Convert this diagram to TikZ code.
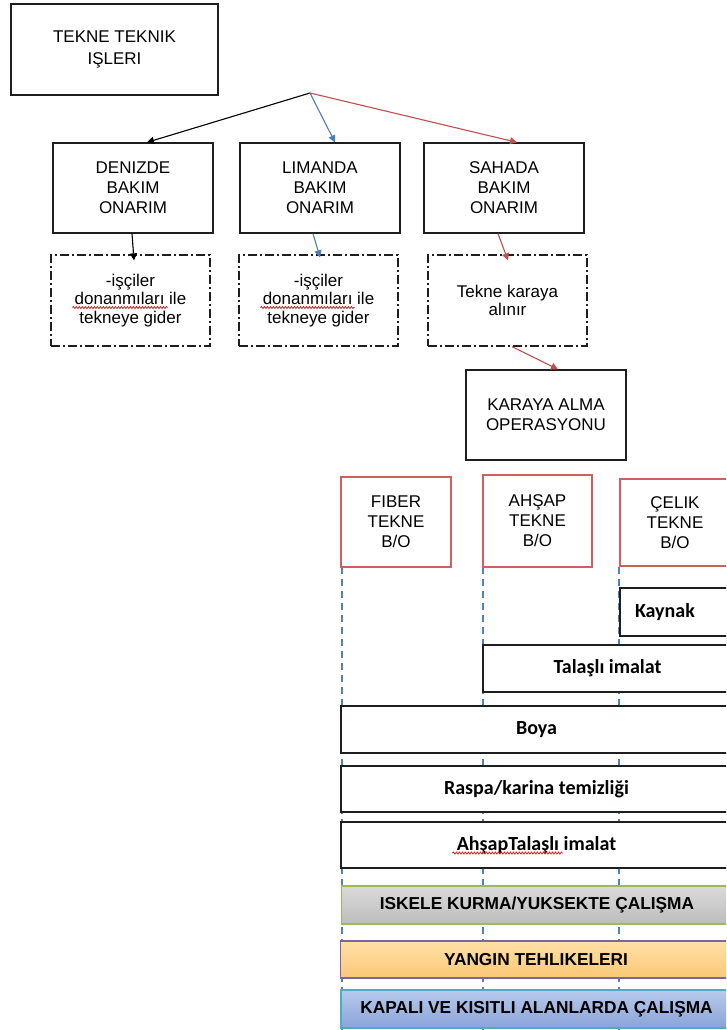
\documentclass[tikz,border=0pt]{standalone}
\usepackage{fontspec}
\setmainfont{Liberation Sans}
\newfontfamily\carl{Carlito}
\usetikzlibrary{arrows.meta,decorations.pathmorphing}
\definecolor{boxline}{HTML}{1E1E1E}
\definecolor{hullred}{HTML}{D0605E}
\definecolor{guideblue}{HTML}{4F81BD}
\definecolor{arrowblue}{HTML}{4A7EBB}
\definecolor{arrowred}{HTML}{C0504D}
\definecolor{spellred}{HTML}{E02020}
\definecolor{scaffgreen}{HTML}{9BBB59}
\definecolor{firepurple}{HTML}{8064A2}
\definecolor{confcyan}{HTML}{4BACC6}
\definecolor{firetop}{HTML}{FFE0A6}
\definecolor{firebot}{HTML}{FBC878}
\definecolor{graytop}{HTML}{DADADA}
\definecolor{graybot}{HTML}{BDBDBD}
\definecolor{conftop}{HTML}{B8CAEC}
\definecolor{confbot}{HTML}{8AA4D8}
\begin{document}
\begin{tikzpicture}[x=1pt,y=-1pt,
  box/.style={draw=boxline, line width=1.3pt, fill=white, align=center, inner sep=0pt,
    font=\fontsize{17}{20}\selectfont},
  dashbox/.style={box, dash pattern=on 9pt off 3pt on 2pt off 3pt},
  hullbox/.style={box, draw=hullred, line width=1.6pt},
  bar/.style={draw=boxline, line width=1.3pt, fill=white, inner sep=0pt,
    font=\carl\bfseries\fontsize{20}{22}\selectfont},
  hazard/.style={line width=1.3pt, inner sep=0pt, minimum width=391pt, minimum height=38pt,
    font=\bfseries\fontsize{17.3}{20}\selectfont},
  guide/.style={draw=guideblue, line width=1.5pt, dash pattern=on 7pt off 5pt},
  link/.style={line width=1.1pt, -{Triangle[length=7pt,width=7pt]}},
  spellmark/.style={draw=spellred, line width=0.8pt,
    decorate, decoration={snake, amplitude=1pt, segment length=3pt}}
]
\path[use as bounding box] (0,0) rectangle (726,1030);
\clip (0,0) rectangle (726,1030);

% top level
\node[box, minimum width=207pt, minimum height=91pt, font=\fontsize{17}{22}\selectfont]
  (top) at (114.5,49.5) {TEKNE TEKNIK\\IŞLERI};
\coordinate (fork) at (310,93);

% maintenance places
\node[box, minimum width=160pt, minimum height=90pt] (den) at (133,188) {DENIZDE\\BAKIM\\ONARIM};
\node[box, minimum width=160pt, minimum height=90pt] (lim) at (320,188) {LIMANDA\\BAKIM\\ONARIM};
\node[box, minimum width=160pt, minimum height=90pt] (sah) at (504,188) {SAHADA\\BAKIM\\ONARIM};

\node[dashbox, minimum width=159pt, minimum height=91pt, font=\fontsize{17}{18.5}\selectfont]
  (d1) at (130.5,300.5) {-işçiler\\donanmıları ile\\tekneye gider};
\node[dashbox, minimum width=159pt, minimum height=91pt, font=\fontsize{17}{18.5}\selectfont]
  (d2) at (318.5,300.5) {-işçiler\\donanmıları ile\\tekneye gider};
\node[dashbox, minimum width=159pt, minimum height=91pt, font=\fontsize{17}{18.5}\selectfont]
  (d3) at (507.5,300.5) {Tekne karaya\\alınır};

\node[box, minimum width=160pt, minimum height=90pt] (kar) at (546,415) {KARAYA ALMA\\OPERASYONU};

% guide lines below the hull types
\coordinate (g1) at (342,1030);
\coordinate (g2) at (483,1030);
\coordinate (g3) at (619,1030);
\draw[guide] (342,567) -- (g1);
\draw[guide] (483,567) -- (g2);
\draw[guide] (619,567) -- (g3);

% hull types
\node[hullbox, minimum width=110pt, minimum height=90pt] (fib) at (396,522) {FIBER\\TEKNE\\B/O};
\node[hullbox, minimum width=109pt, minimum height=92pt] (ahs) at (537.5,521) {AHŞAP\\TEKNE\\B/O};
\node[hullbox, minimum width=110pt, minimum height=87pt] (cel) at (675,522.5) {ÇELIK\\TEKNE\\B/O};

% work items
\node[bar, minimum width=112pt, minimum height=48pt, text width=82pt, align=left]
  (kay) at (676,612) {Kaynak};
\node[bar, minimum width=249pt, minimum height=47pt] (tal) at (607.5,668.5) {Talaşlı imalat};
\node[bar, minimum width=391pt, minimum height=47pt] (boya) at (536.5,729.5) {Boya};
\node[bar, minimum width=391pt, minimum height=46pt] (ras) at (536.5,789) {Raspa/karina temizliği};
\node[bar, minimum width=391pt, minimum height=46pt] (aht) at (536.5,845) {AhşapTalaşlı imalat};

% hazards
\node[hazard, draw=scaffgreen, top color=graytop, bottom color=graybot]
  (isk) at (537,905) {ISKELE KURMA/YUKSEKTE ÇALIŞMA};
\node[hazard, draw=firepurple, minimum height=37pt, top color=firetop, bottom color=firebot]
  (yan) at (536,959.5) {YANGIN TEHLIKELERI};
\node[hazard, draw=confcyan, top color=conftop, bottom color=confbot]
  (kap) at (536.5,1009) {KAPALI VE KISITLI ALANLARDA ÇALIŞMA};

% spell-check squiggles under flagged words
\draw[spellmark] ([shift={(-58,7)}]d1.center) -- ([shift={(37,7)}]d1.center);
\draw[spellmark] ([shift={(-58,7)}]d2.center) -- ([shift={(36,7)}]d2.center);
\draw[spellmark] ([shift={(-84,8)}]aht.center) -- ([shift={(26,8)}]aht.center);

% connectors
\draw[link, draw=black, fill=black] (fork) -- ([xshift=14pt]den.north);
\draw[link, draw=arrowblue, fill=arrowblue] (fork) -- ([xshift=15pt]lim.north);
\draw[link, draw=arrowred, fill=arrowred] (fork) -- ([xshift=13pt]sah.north);
\draw[link, draw=black, fill=black] ([xshift=-1pt]den.south) -- ([xshift=3.5pt,yshift=-6pt]d1.north);
\draw[link, draw=arrowblue, fill=arrowblue] ([xshift=-7pt]lim.south) -- ([xshift=1.5pt,yshift=-3pt]d2.north);
\draw[link, draw=arrowred, fill=arrowred] ([xshift=-6pt]sah.south) -- ([xshift=0.5pt,yshift=-6pt]d3.north);
\draw[link, draw=arrowred, fill=arrowred] ([xshift=4.5pt]d3.south) -- ([xshift=12pt]kar.north);
\end{tikzpicture}
\end{document}
